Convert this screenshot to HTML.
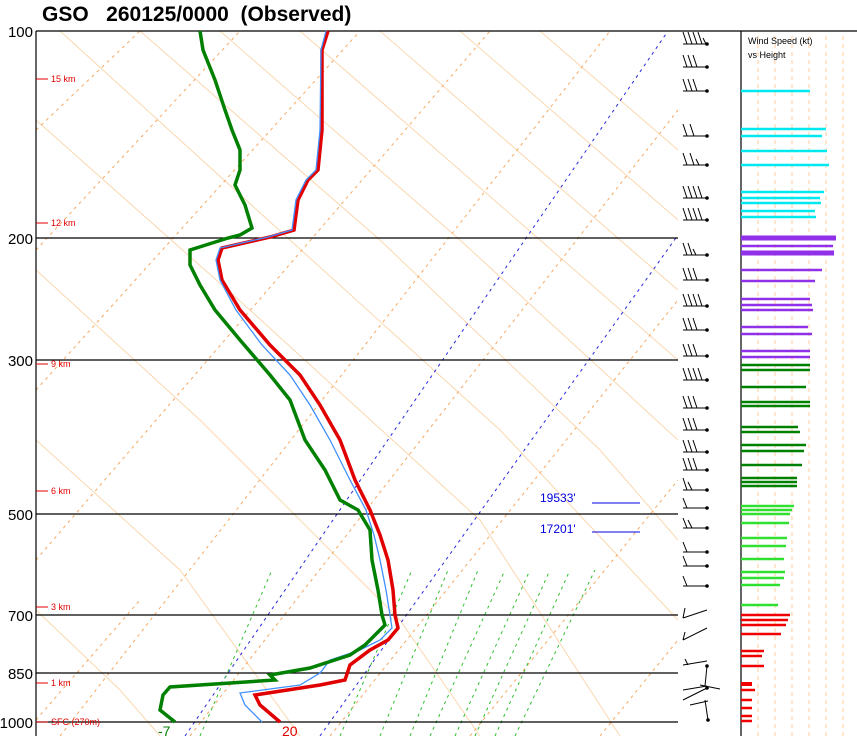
<!DOCTYPE html><html><head><style>body{margin:0;background:#fff}svg{display:block}</style></head><body>
<svg width="857" height="736" xmlns="http://www.w3.org/2000/svg" font-family="Liberation Sans, sans-serif">
<rect width="857" height="736" fill="#fff"/>
<text x="42" y="21" font-size="21" font-weight="bold" style="white-space:pre" xml:space="preserve">GSO   260125/0000  (Observed)</text>
<defs><clipPath id="c"><rect x="36" y="31" width="642" height="705"/></clipPath></defs>
<g clip-path="url(#c)">
<g stroke="#fbd7b0" stroke-width="1" fill="none">
<path d="M36 120 L250 310 L480 520 L620 736"/><path d="M36 270 L200 420 L400 620 L480 736"/>
<path d="M36 440 L180 570 L300 736"/><path d="M60 31 L290 240 L500 430 L678 620"/>
<path d="M140 31 L380 240 L600 450 L678 540"/><path d="M220 31 L460 240 L678 440"/>
<path d="M300 31 L540 240 L678 360"/><path d="M380 31 L620 240 L678 290"/><path d="M460 31 L678 220"/><path d="M540 31 L678 150"/><path d="M36 610 L120 690 L160 736"/>
</g>
<g stroke="#f6a860" stroke-width="1" stroke-dasharray="3,4" fill="none">
<path d="M36 130 L140 31"/><path d="M36 250 L240 31"/><path d="M36 390 L360 31"/><path d="M36 560 L490 31"/><path d="M60 736 L610 31"/><path d="M190 736 L678 110"/><path d="M330 736 L678 300"/><path d="M470 736 L678 480"/><path d="M600 736 L678 640"/><path d="M36 720 L140 600"/>
</g>
<g stroke="#2828e0" stroke-width="1" stroke-dasharray="3,4" fill="none"><path d="M185 736 L668 31"/><path d="M320 736 L678 235"/></g>
<g stroke="#30c030" stroke-width="1" stroke-dasharray="3,4" fill="none">
<path d="M200 736 L272 570"/><path d="M340 736 L412 570"/><path d="M380 736 L448 570"/><path d="M410 736 L478 570"/><path d="M430 736 L505 570"/><path d="M455 736 L530 570"/><path d="M475 736 L550 570"/><path d="M495 736 L570 570"/><path d="M515 736 L595 570"/>
</g>
</g>
<g stroke="#000" stroke-width="1.2"><line x1="36" y1="31" x2="857" y2="31"/><line x1="36" y1="238" x2="678" y2="238"/><line x1="36" y1="360" x2="678" y2="360"/><line x1="36" y1="514" x2="678" y2="514"/><line x1="36" y1="615" x2="678" y2="615"/><line x1="36" y1="673" x2="678" y2="673"/><line x1="36" y1="722" x2="678" y2="722"/><line x1="36" y1="31" x2="36" y2="736"/><line x1="741" y1="31" x2="741" y2="736"/></g>
<g font-size="15" text-anchor="end"><text x="33" y="37">100</text><text x="33" y="244">200</text><text x="33" y="366">300</text><text x="33" y="520">500</text><text x="33" y="621">700</text><text x="33" y="679">850</text><text x="33" y="728">1000</text></g>
<g fill="#e00000" font-size="9" stroke-width="1"><g stroke="#e00000"><line x1="36" y1="79" x2="48" y2="79"/><line x1="36" y1="223" x2="48" y2="223"/><line x1="36" y1="364" x2="48" y2="364"/><line x1="36" y1="491" x2="48" y2="491"/><line x1="36" y1="607" x2="48" y2="607"/><line x1="36" y1="683" x2="48" y2="683"/><line x1="36" y1="722" x2="48" y2="722"/></g>
<text x="51" y="82">15 km</text><text x="51" y="226">12 km</text><text x="51" y="367">9 km</text><text x="51" y="494">6 km</text><text x="51" y="610">3 km</text><text x="51" y="686">1 km</text><text x="51" y="725">SFC (270m)</text></g>
<text x="158" y="736" font-size="14" fill="#008000">-7</text><text x="282" y="736" font-size="14" fill="#e00000">20</text>
<text x="540" y="502" font-size="12" fill="#0000e0">19533'</text><line x1="592" y1="503" x2="640" y2="503" stroke="#0000e0"/>
<text x="540" y="533" font-size="12" fill="#0000e0">17201'</text><line x1="592" y1="532" x2="640" y2="532" stroke="#0000e0"/>
<polyline fill="none" stroke="#e00000" stroke-width="3.5" points="328,31 322,50 322,130 318,170 308,180 298,200 294,230 270,237 222,248 218,260 222,280 240,310 270,345 300,375 320,405 340,440 355,480 370,510 380,535 388,560 393,590 395,615 398,628 388,640 370,650 350,665 345,680 320,685 255,695 260,705 280,722"/>
<polyline fill="none" stroke="#4090ff" stroke-width="1.3" points="326,31 321,50 320,130 316,170 306,180 296,200 292,230 268,237 220,248 216,260 220,280 236,310 262,345 290,375 310,405 330,440 350,480 366,510 374,535 380,560 386,590 390,615 392,628 380,640 360,650 330,660 320,673 300,685 240,693 245,705 262,722"/>
<polyline fill="none" stroke="#008000" stroke-width="3.5" points="200,31 203,50 215,80 225,110 232,130 240,150 240,170 235,185 245,205 252,228 240,235 228,238 190,250 190,265 200,285 215,310 240,340 270,375 290,400 305,440 325,470 340,500 358,510 370,530 372,560 378,590 382,615 385,625 375,635 365,645 350,655 310,668 270,675 275,680 170,687 163,695 160,710 175,722"/>
<g stroke="#000" fill="none" stroke-width="1">
<path d="M683 44h24M683 32l4 12M688 32l4 12M693 32l4 12M698 32l4 12M703 38l3 6"/>
<path d="M683 67h24M683 55l4 12M688 55l4 12M693 55l4 12"/>
<path d="M683 91h24M683 79l4 12M688 79l4 12M693 79l4 12"/>
<path d="M683 136h24M683 124l4 12M690 124l4 12"/><path d="M683 165h24M683 153l4 12M690 153l4 12M696 159l3 6"/>
<path d="M683 198h24M683 186l4 12M688 186l4 12M693 186l4 12M698 186l4 12"/><path d="M683 220h24M683 208l4 12M688 208l4 12M693 208l4 12M698 208l4 12"/>
<path d="M683 255h24M683 243l4 12M688 243l4 12M693 249l3 6"/><path d="M683 280h24M683 268l4 12M688 268l4 12M693 268l4 12"/><path d="M683 306h24M683 294l4 12M688 294l4 12M693 294l4 12M698 294l4 12"/><path d="M683 330h24M683 318l4 12M688 318l4 12M693 318l4 12"/><path d="M683 356h24M683 344l4 12M688 344l4 12M693 344l4 12"/><path d="M683 380h24M683 368l4 12M688 368l4 12M693 368l4 12M698 368l4 12"/><path d="M683 408h24M683 396l4 12M688 396l4 12M693 396l4 12"/><path d="M683 430h24M683 418l4 12M688 418l4 12M693 418l4 12"/><path d="M683 452h24M683 440l4 12M688 440l4 12M693 440l4 12"/><path d="M683 470h24M683 458l4 12M688 458l4 12M693 458l4 12"/>
<path d="M683 490h24M683 478l4 12M688 482l4 8"/><path d="M683 508h24M683 498l4 10"/><path d="M683 528h24M683 518l4 10M688 520l4 8"/><path d="M683 552h24M683 542l4 10"/><path d="M683 566h24M683 556l4 10"/><path d="M683 586h24M683 576l4 10"/>
<path d="M683 618l24-8M683 618l2-10"/><path d="M683 640l24-12M683 640l2-8"/><path d="M683 665l24-4M688 665l-3-6"/><path d="M683 690l24-4M705 686l2-20"/><path d="M683 700l24-12M700 685l20 4"/><path d="M690 705l18-4M708 720l-3-20"/>
</g>
<g fill="#000"><circle cx="707" cy="44" r="1.8"/><circle cx="707" cy="67" r="1.8"/><circle cx="707" cy="91" r="1.8"/><circle cx="707" cy="136" r="1.8"/><circle cx="707" cy="165" r="1.8"/><circle cx="707" cy="198" r="1.8"/><circle cx="707" cy="220" r="1.8"/><circle cx="707" cy="255" r="1.8"/><circle cx="707" cy="280" r="1.8"/><circle cx="707" cy="306" r="1.8"/><circle cx="707" cy="330" r="1.8"/><circle cx="707" cy="356" r="1.8"/><circle cx="707" cy="380" r="1.8"/><circle cx="707" cy="408" r="1.8"/><circle cx="707" cy="430" r="1.8"/><circle cx="707" cy="452" r="1.8"/><circle cx="707" cy="470" r="1.8"/><circle cx="707" cy="490" r="1.8"/><circle cx="707" cy="508" r="1.8"/><circle cx="707" cy="528" r="1.8"/><circle cx="707" cy="552" r="1.8"/><circle cx="707" cy="566" r="1.8"/><circle cx="707" cy="586" r="1.8"/><circle cx="707" cy="666" r="1.8"/><circle cx="707" cy="688" r="1.8"/><circle cx="708" cy="720" r="1.8"/></g>
<g stroke="#ffcc99" stroke-dasharray="4,4"><line x1="758" y1="36" x2="758" y2="736"/><line x1="775" y1="36" x2="775" y2="736"/><line x1="792" y1="36" x2="792" y2="736"/><line x1="809" y1="36" x2="809" y2="736"/><line x1="826" y1="36" x2="826" y2="736"/><line x1="843" y1="36" x2="843" y2="736"/></g>
<text x="748" y="44" font-size="9">Wind Speed (kt)</text><text x="748" y="58" font-size="9">vs Height</text>
<g stroke="#00e8f0" stroke-width="2.5"><line x1="741" y1="91" x2="810" y2="91"/><line x1="741" y1="129" x2="826" y2="129"/><line x1="741" y1="136" x2="822" y2="136"/><line x1="741" y1="151" x2="827" y2="151"/><line x1="741" y1="165" x2="829" y2="165"/><line x1="741" y1="192" x2="824" y2="192"/><line x1="741" y1="198" x2="820" y2="198"/><line x1="741" y1="203" x2="821" y2="203"/><line x1="741" y1="211" x2="815" y2="211"/><line x1="741" y1="217" x2="816" y2="217"/></g>
<g stroke="#9030e8" stroke-width="2.5"><line x1="741" y1="238" x2="836" y2="238" stroke-width="5"/><line x1="741" y1="246" x2="833" y2="246"/><line x1="741" y1="253" x2="834" y2="253" stroke-width="5"/><line x1="741" y1="270" x2="822" y2="270"/><line x1="741" y1="281" x2="815" y2="281"/><line x1="741" y1="299" x2="810" y2="299"/><line x1="741" y1="305" x2="812" y2="305"/><line x1="741" y1="310" x2="813" y2="310"/><line x1="741" y1="327" x2="808" y2="327"/><line x1="741" y1="334" x2="812" y2="334"/><line x1="741" y1="351" x2="810" y2="351"/><line x1="741" y1="357" x2="810" y2="357"/></g>
<g stroke="#008000" stroke-width="2.5"><line x1="741" y1="365" x2="810" y2="365"/><line x1="741" y1="370" x2="810" y2="370"/><line x1="741" y1="387" x2="806" y2="387"/><line x1="741" y1="402" x2="810" y2="402"/><line x1="741" y1="406" x2="810" y2="406"/><line x1="741" y1="427" x2="798" y2="427"/><line x1="741" y1="432" x2="800" y2="432"/><line x1="741" y1="445" x2="806" y2="445"/><line x1="741" y1="451" x2="804" y2="451"/><line x1="741" y1="465" x2="802" y2="465"/><line x1="741" y1="478" x2="797" y2="478"/><line x1="741" y1="482" x2="797" y2="482"/><line x1="741" y1="486" x2="797" y2="486"/></g>
<g stroke="#30e030" stroke-width="2.5"><line x1="741" y1="506" x2="794" y2="506"/><line x1="741" y1="510" x2="792" y2="510"/><line x1="741" y1="514" x2="790" y2="514"/><line x1="741" y1="523" x2="789" y2="523"/><line x1="741" y1="538" x2="787" y2="538"/><line x1="741" y1="546" x2="786" y2="546"/><line x1="741" y1="559" x2="784" y2="559"/><line x1="741" y1="572" x2="785" y2="572"/><line x1="741" y1="578" x2="784" y2="578"/><line x1="741" y1="585" x2="780" y2="585"/><line x1="741" y1="605" x2="778" y2="605"/></g>
<g stroke="#f00000" stroke-width="2.5"><line x1="741" y1="615" x2="790" y2="615"/><line x1="741" y1="620" x2="788" y2="620"/><line x1="741" y1="625" x2="786" y2="625"/><line x1="741" y1="634" x2="781" y2="634"/><line x1="741" y1="651" x2="764" y2="651"/><line x1="741" y1="656" x2="762" y2="656"/><line x1="741" y1="666" x2="764" y2="666"/><line x1="741" y1="684" x2="752" y2="684" stroke-width="4"/><line x1="741" y1="690" x2="755" y2="690"/><line x1="741" y1="700" x2="752" y2="700"/><line x1="741" y1="708" x2="752" y2="708"/><line x1="741" y1="716" x2="752" y2="716"/><line x1="741" y1="721" x2="752" y2="721"/></g>
</svg></body></html>
